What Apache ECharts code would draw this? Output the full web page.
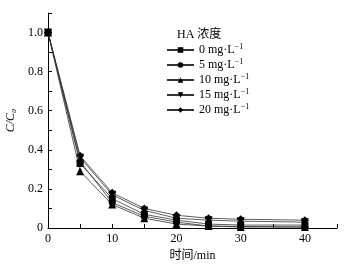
<!DOCTYPE html>
<html>
<head>
<meta charset="utf-8">
<script src="https://cdn.jsdelivr.net/npm/echarts@6/dist/echarts.min.js"></script>
<style>
html, body { margin: 0; padding: 0; background: #fff; }
#main { width: 349px; height: 266px; }
</style>
</head>
<body>
<div id="main"></div>
<script>
// 时间 (min)
var times = [0, 5, 10, 15, 20, 25, 30, 40];
// HA 浓度 mg/L
var concLabels = ['0', '5', '10', '15', '20'];
var c0 = [1.0, 0.33, 0.15, 0.07, 0.04, 0.02, 0.015, 0.015];
var c5 = [1.0, 0.34, 0.13, 0.06, 0.03, 0.01, 0.008, 0.005];
var c10 = [1.0, 0.29, 0.12, 0.05, 0.02, 0.01, 0.005, 0.005];
var c15 = [1.0, 0.36, 0.17, 0.09, 0.05, 0.04, 0.035, 0.03];
var c20 = [1.0, 0.37, 0.18, 0.10, 0.065, 0.05, 0.045, 0.04];

var serif = '"Liberation Serif", "Times New Roman", "Noto Sans CJK SC", serif';
var symbols = ['rect', 'circle', 'triangle', 'path://M0,0 L10,0 L5,9 Z', 'diamond'];
var sizes = [7, 7, 8, 8, 8];
var allData = [c0, c5, c10, c15, c20];

function pairs(arr) {
    return times.map(function (t, i) { return [t, arr[i]]; });
}

var series = allData.map(function (d, i) {
    return {
        name: concLabels[i],
        type: 'line',
        data: pairs(d),
        symbol: symbols[i],
        symbolSize: sizes[i],
        showAllSymbol: true,
        lineStyle: { color: '#333', width: 0.8 },
        itemStyle: { color: '#000' },
        z: 10 - i
    };
});

var chart = echarts.init(document.getElementById('main'));
chart.setOption({
    animation: false,
    backgroundColor: '#fff',
    textStyle: { fontFamily: serif },
    title: {
        text: 'HA 浓度',
        left: 172,
        top: 24,
        textStyle: { fontFamily: serif, fontSize: 12, fontWeight: 'normal', color: '#000' }
    },
    legend: {
        orient: 'vertical',
        left: 161,
        top: 38,
        itemWidth: 27,
        itemHeight: 7,
        itemGap: 1,
        data: concLabels,
        formatter: function (name) {
            return name + ' mg·L{sup|−1}';
        },
        textStyle: {
            fontFamily: serif,
            fontSize: 12,
            color: '#000',
            lineHeight: 14,
            rich: {
                sup: { fontSize: 8, verticalAlign: 'top', lineHeight: 10, padding: [0, 0, 5, 0], fontFamily: serif }
            }
        }
    },
    grid: { left: 48, right: 12, top: 13, bottom: 38, containLabel: false, outerBoundsMode: 'none' },
    xAxis: {
        type: 'value',
        min: 0,
        max: 45,
        interval: 5,
        name: '时间/min',
        nameLocation: 'middle',
        nameGap: 17,
        nameTextStyle: { fontFamily: serif, fontSize: 12, color: '#000' },
        splitLine: { show: false },
        axisLine: { lineStyle: { color: '#000', width: 1 } },
        axisTick: { inside: true, length: 4, lineStyle: { color: '#000' } },
        axisLabel: {
            color: '#000', fontSize: 12, fontFamily: serif, margin: 5,
            formatter: function (v) { return Math.round(v) % 10 === 0 ? String(v) : ''; }
        }
    },
    yAxis: {
        type: 'value',
        min: 0,
        max: 1.1,
        interval: 0.1,
        name: 'C/C₀',
        nameLocation: 'middle',
        nameGap: 29,
        nameTextStyle: { fontFamily: serif, fontSize: 12, color: '#000', fontStyle: 'italic' },
        splitLine: { show: false },
        axisLine: { show: true, lineStyle: { color: '#000', width: 1 } },
        axisTick: { inside: true, length: 4, lineStyle: { color: '#000' } },
        axisLabel: {
            color: '#000', fontSize: 12, fontFamily: serif, margin: 5,
            formatter: function (v) {
                var k = Math.round(v * 10);
                if (k % 2 !== 0) return '';
                return k === 0 ? '0' : (k / 10).toFixed(1);
            }
        }
    },
    series: series
});
</script>
</body>
</html>
